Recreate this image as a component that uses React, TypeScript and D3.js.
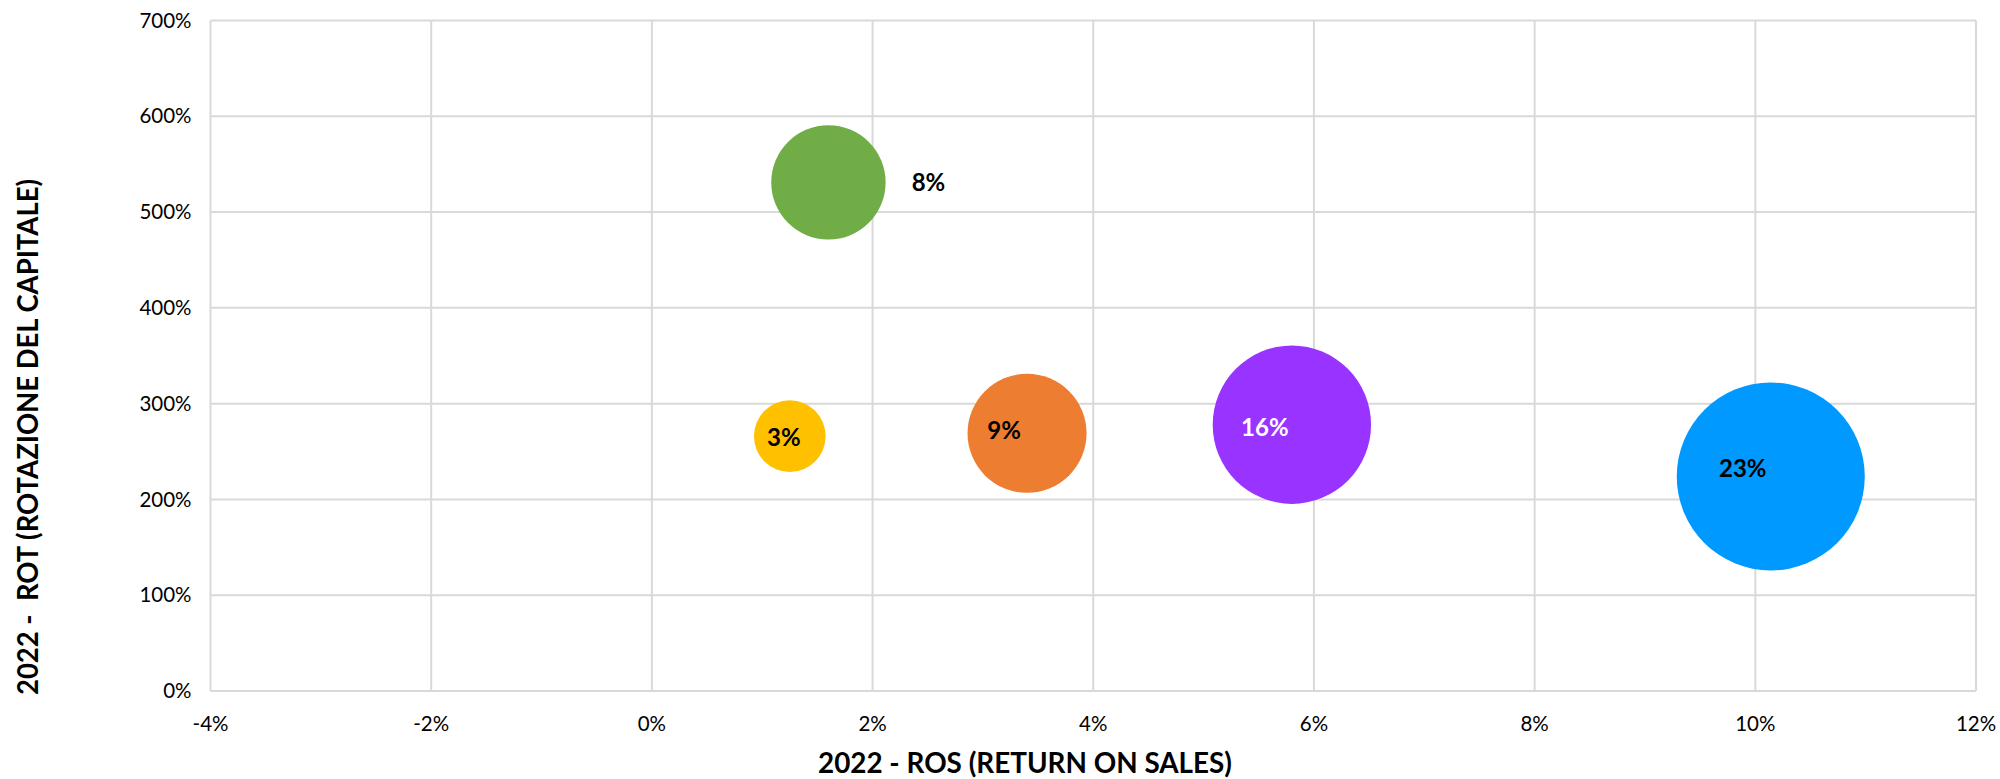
import React, { useEffect, useRef } from "react";
import * as d3 from "d3";

// ROS (x), ROT (y), ROI (bubble size + label)
const ros = [0.0125, 0.016, 0.034, 0.058, 0.1014];
const rot = [2.66, 5.31, 2.69, 2.78, 2.24];
const roi = [0.033, 0.084, 0.091, 0.161, 0.227];
const colors = ["#FFC000", "#70AD47", "#ED7D31", "#9933FF", "#0099FF"];
const labelColors = ["#000", "#000", "#000", "#fff", "#000"];
// where Excel put each data label, relative to the bubble centre
const labelOffsets = [[-6, 1], [100, 0], [-23, -3], [-27, 3], [-28, -8]];

const xTicks = [-0.04, -0.02, 0, 0.02, 0.04, 0.06, 0.08, 0.1, 0.12];
const yTicks = [0, 1, 2, 3, 4, 5, 6, 7];

const xTitle = "2022 - ROS (RETURN ON SALES)";
const yTitle = "2022 -  ROT (ROTAZIONE DEL CAPITALE)";

// plain hyphen for negatives, like Excel
const pct = d3.formatLocale({
  decimal: ".",
  thousands: ",",
  grouping: [3],
  currency: ["", ""],
  minus: "-",
}).format(".0%");

const App = () => {
  const svgRef = useRef<SVGSVGElement>(null);

  useEffect(() => {
    const svg = d3.select(svgRef.current);
    svg.selectAll("*").remove();

    const width = 2000;
    const height = 779;
    const margin = { top: 20.5, right: 24, bottom: 88, left: 210.5 };
    const font = "Lato, 'Open Sans', sans-serif";

    svg.attr("width", width).attr("height", height);

    const x = d3.scaleLinear()
      .domain([-0.04, 0.12])
      .range([margin.left, width - margin.right]);

    const y = d3.scaleLinear()
      .domain([0, 7])
      .range([height - margin.bottom, margin.top]);

    const r = d3.scaleSqrt()
      .domain([0, 0.227])
      .range([0, 94]);

    // gridlines
    svg.append("g")
      .selectAll("line")
      .data(yTicks)
      .enter()
      .append("line")
      .attr("x1", x(-0.04))
      .attr("x2", x(0.12))
      .attr("y1", d => y(d))
      .attr("y2", d => y(d))
      .attr("stroke", "#d9d9d9")
      .attr("stroke-width", 2);

    svg.append("g")
      .selectAll("line")
      .data(xTicks)
      .enter()
      .append("line")
      .attr("x1", d => x(d))
      .attr("x2", d => x(d))
      .attr("y1", y(0))
      .attr("y2", y(7))
      .attr("stroke", "#d9d9d9")
      .attr("stroke-width", 2);

    // tick labels
    svg.append("g")
      .selectAll("text")
      .data(yTicks)
      .enter()
      .append("text")
      .attr("x", margin.left - 19)
      .attr("y", d => y(d))
      .attr("dy", "0.35em")
      .attr("text-anchor", "end")
      .attr("font-family", font)
      .attr("font-size", 20.5)
      .attr("fill", "#000")
      .text(d => pct(d));

    svg.append("g")
      .selectAll("text")
      .data(xTicks)
      .enter()
      .append("text")
      .attr("x", d => x(d))
      .attr("y", 724)
      .attr("dy", "0.35em")
      .attr("text-anchor", "middle")
      .attr("font-family", font)
      .attr("font-size", 20.5)
      .attr("fill", "#000")
      .text(d => pct(d));

    // bubbles, biggest first so small ones stay on top
    const points = ros.map((v, i) => ({ ros: v, rot: rot[i], roi: roi[i], i }))
      .sort((a, b) => b.roi - a.roi);

    svg.append("g")
      .selectAll("circle")
      .data(points)
      .enter()
      .append("circle")
      .attr("cx", d => x(d.ros))
      .attr("cy", d => y(d.rot))
      .attr("r", d => r(d.roi))
      .attr("fill", d => colors[d.i]);

    svg.append("g")
      .selectAll("text")
      .data(points)
      .enter()
      .append("text")
      .attr("x", d => x(d.ros) + labelOffsets[d.i][0])
      .attr("y", d => y(d.rot) + labelOffsets[d.i][1])
      .attr("dy", "0.35em")
      .attr("text-anchor", "middle")
      .attr("font-family", font)
      .attr("font-weight", "bold")
      .attr("font-size", 24)
      .attr("fill", d => labelColors[d.i])
      .text(d => pct(d.roi));

    // axis titles
    svg.append("text")
      .attr("x", 1025)
      .attr("y", 763)
      .attr("dy", "0.35em")
      .attr("text-anchor", "middle")
      .attr("font-family", font)
      .attr("font-weight", "bold")
      .attr("font-size", 28)
      .attr("textLength", 414)
      .attr("lengthAdjust", "spacingAndGlyphs")
      .attr("fill", "#000")
      .text(xTitle);

    svg.append("text")
      .attr("transform", "translate(28,437) rotate(-90)")
      .attr("dy", "0.35em")
      .attr("text-anchor", "middle")
      .attr("font-family", font)
      .attr("font-weight", "bold")
      .attr("font-size", 28)
      .attr("textLength", 516)
      .attr("lengthAdjust", "spacingAndGlyphs")
      .attr("fill", "#000")
      .style("white-space", "pre")
      .text(yTitle);
  }, []);

  return (
    <svg
      ref={svgRef}
      style={{ position: "absolute", left: 0, top: 0, background: "#fff" }}
    ></svg>
  );
};

export default App;
